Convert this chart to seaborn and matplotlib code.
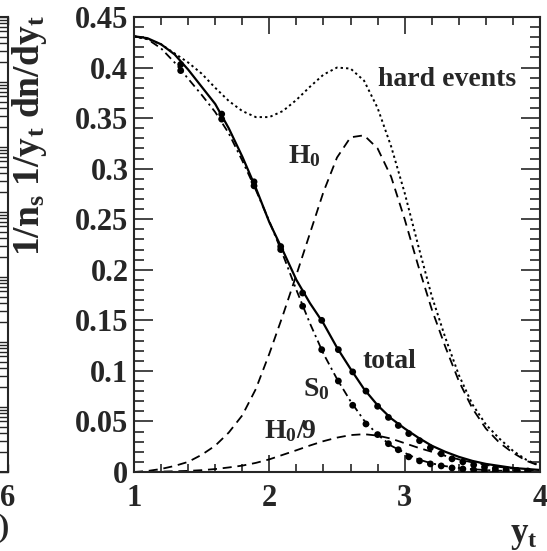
import numpy as np
import pandas as pd
import matplotlib
matplotlib.use("Agg")
import matplotlib.pyplot as plt
import seaborn as sns
from matplotlib.ticker import MultipleLocator, LogLocator, NullFormatter

# ---------------- data ----------------
x_grid = [1.0, 1.1, 1.2, 1.3, 1.4, 1.5, 1.6, 1.7, 1.8, 1.9, 2.0, 2.1, 2.2, 2.3, 2.4, 2.5,
          2.6, 2.7, 2.8, 2.9, 3.0, 3.1, 3.2, 3.3, 3.4, 3.5, 3.6, 3.7, 3.8, 3.9, 4.0]

hard_events = [.431, .428, .423, .414, .405, .394, .380, .367, .357, .351, .351, .357, .368,
               .381, .393, .400, .399, .387, .360, .322, .276, .224, .174, .133, .096, .067,
               .047, .033, .021, .012, .006]

h0 = [.000, .001, .003, .006, .010, .017, .026, .039, .056, .082, .117, .155, .195, .236,
      .277, .311, .331, .333, .320, .292, .250, .204, .161, .124, .090, .063, .043, .029,
      .019, .011, .006]

h0_over_9 = [.0000, .0002, .0004, .0007, .0011, .0018, .0029, .0045, .0063, .0090, .0125,
             .0170, .0215, .0262, .0305, .0340, .0365, .0374, .0360, .0330, .0285, .0240,
             .0200, .0160, .0125, .0095, .0070, .0050, .0035, .0022, .0012]

total = [.431, .429, .423, .413, .398, .381, .364, .340, .312, .281, .247, .219, .190, .167,
         .147, .123, .102, .082, .066, .053, .043, .034, .026, .020, .015, .011, .008, .006,
         .004, .003, .002]

s0 = [.431, .428, .419, .405, .389, .373, .356, .335, .308, .279, .248, .215, .180, .147,
      .117, .092, .070, .051, .037, .026, .019, .0125, .0085, .0058, .0040, .0028, .0019,
      .0013, .0009, .0006, .0004]

dot_x = [1.345, 1.648, 1.887, 2.084, 2.246, 2.387, 2.51, 2.616, 2.714, 2.80, 2.88, 2.953,
         3.03, 3.11, 3.19, 3.27, 3.35, 3.43, 3.51, 3.59, 3.67, 3.75, 3.83, 3.91]
dot_total = [.403, .354, .287, .223, .177, .150, .121, .099, .080, .065, .054, .046, .038,
             .031, .024, .018, .013, .010, .007, .005, .0035, .0025, .0015, .001]
dot_s0 = [.397, .349, .283, .220, .164, .121, .090, .066, .0475, .037, .028, .022, .015,
          .011, .008, .006, .004, .003, .002, .0015, .001, .0007, .0005, .0003]

x_ticks = [1, 2, 3, 4]
y_ticks = [0, 0.05, 0.1, 0.15, 0.2, 0.25, 0.3, 0.35, 0.4, 0.45]
y_tick_labels = ["0", "0.05", "0.1", "0.15", "0.2", "0.25", "0.3", "0.35", "0.4", "0.45"]

# ---------------- style ----------------
sns.set_theme(style="ticks")
plt.rcParams["font.family"] = ["Liberation Serif", "DejaVu Serif"]
plt.rcParams["font.weight"] = "bold"
plt.rcParams["mathtext.fontset"] = "custom"
plt.rcParams["mathtext.rm"] = "Liberation Serif:bold"
plt.rcParams["mathtext.it"] = "Liberation Serif:bold"
plt.rcParams["mathtext.bf"] = "Liberation Serif:bold"

W, H = 547, 551
fig = plt.figure(figsize=(W / 100, H / 100), dpi=100)

L, R, T, B = 134, 540, 17, 472
ax = fig.add_axes([L / W, 1 - B / H, (R - L) / W, (B - T) / H])

ls_dot = (0, (1.2, 1.6))
ls_dash = (0, (5.0, 3.2))
ls_dashdot = (0, (4.5, 2.2, 1.2, 2.2))

sns.lineplot(x=x_grid, y=hard_events, ax=ax, color="black", lw=1.4, linestyle=ls_dot)
sns.lineplot(x=x_grid, y=h0, ax=ax, color="black", lw=1.3, linestyle=ls_dash)
sns.lineplot(x=x_grid, y=h0_over_9, ax=ax, color="black", lw=1.3, linestyle=ls_dash)
sns.lineplot(x=x_grid, y=s0, ax=ax, color="black", lw=1.3, linestyle=ls_dashdot)
sns.lineplot(x=x_grid, y=total, ax=ax, color="black", lw=1.6)
sns.scatterplot(x=dot_x, y=dot_total, ax=ax, color="black", s=24, edgecolor="none", zorder=5)
sns.scatterplot(x=dot_x, y=dot_s0, ax=ax, color="black", s=24, edgecolor="none", zorder=5)

ax.set_xlim(1, 4)
ax.set_ylim(0, 0.45)
ax.set_xticks(x_ticks)
ax.set_xticklabels([str(v) for v in x_ticks])
ax.set_yticks(y_ticks)
ax.set_yticklabels(y_tick_labels)
ax.xaxis.set_minor_locator(MultipleLocator(0.2))
ax.yaxis.set_minor_locator(MultipleLocator(0.01))
ax.tick_params(axis="both", which="both", direction="in", top=True, right=True,
               labelsize=22, width=1.2)
ax.tick_params(axis="x", which="major", length=12, pad=9)
ax.tick_params(axis="x", which="minor", length=6)
ax.tick_params(axis="y", which="major", length=14, pad=4)
ax.tick_params(axis="y", which="minor", length=7)
for lab in ax.get_xticklabels() + ax.get_yticklabels():
    lab.set_fontweight("bold")
for sp in ax.spines.values():
    sp.set_linewidth(1.5)
ax.set_xlabel("")
ax.set_ylabel("")

# axis titles
fig.text(524 / W, 1 - 535 / H, r"y$_\mathregular{t}$", ha="center", va="center",
         fontsize=25, fontweight="bold")
fig.text(30 / W, 1 - 136 / H, r"1/n$_\mathregular{s}$ 1/y$_\mathregular{t}$ dn/dy$_\mathregular{t}$",
         rotation=90, ha="center", va="center", fontsize=27, fontweight="bold")

# annotations
ax.text(3.313, 0.388, "hard events", ha="center", va="center", fontsize=20, fontweight="bold")
ax.text(2.26, 0.312, r"H$_0$", ha="center", va="center", fontsize=20, fontweight="bold")
ax.text(2.884, 0.109, "total", ha="center", va="center", fontsize=20, fontweight="bold")
ax.text(2.345, 0.082, r"S$_0$", ha="center", va="center", fontsize=20, fontweight="bold")
ax.text(2.15, 0.040, r"H$_0$/9", ha="center", va="center", fontsize=20, fontweight="bold")

# neighbouring panel, mostly cut off at the left edge
ax2 = fig.add_axes([-0.6, 1 - B / H, 0.6 + 8 / W, (B - T) / H])
ax2.set_xlim(0, 6)
ax2.set_yscale("log")
ax2.set_ylim(1e-7, 1)
ax2.set_xticks([6])
ax2.set_xticklabels(["6"])
ax2.yaxis.set_major_locator(LogLocator(base=10, numticks=20))
ax2.yaxis.set_minor_locator(LogLocator(base=10, subs=np.arange(2, 10), numticks=100))
ax2.yaxis.set_minor_formatter(NullFormatter())
ax2.tick_params(axis="both", which="both", direction="in", right=True, top=True,
                labelleft=False, labelsize=22, width=1.0, pad=9)
ax2.tick_params(axis="y", which="major", length=12)
ax2.tick_params(axis="y", which="minor", length=7)
for lab in ax2.get_xticklabels():
    lab.set_fontweight("bold")
for sp in ax2.spines.values():
    sp.set_linewidth(1.5)
fig.text(4 / W, 1 - 528 / H, ")", ha="center", va="center", fontsize=22, fontweight="bold")

fig.savefig("out.png", dpi=100)
